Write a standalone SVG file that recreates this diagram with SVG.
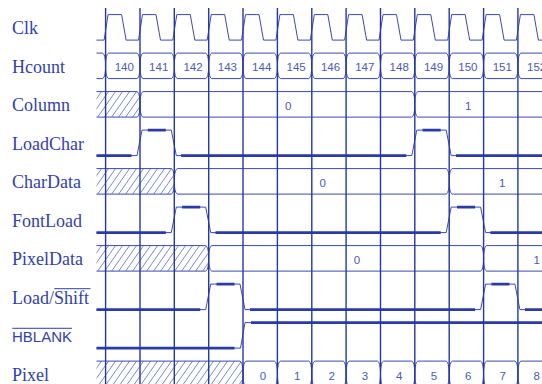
<svg xmlns="http://www.w3.org/2000/svg" xmlns:xlink="http://www.w3.org/1999/xlink" width="542" height="384" viewBox="0 0 542 384">
<style>
.lbl{font-family:"Liberation Serif","Times New Roman",serif;font-size:18px;fill:#3042ac}
.lbls{font-family:"Liberation Sans",Arial,sans-serif;font-size:15px;fill:#3042ac}
.num{font-family:"Liberation Sans",Arial,sans-serif;font-size:11.5px;fill:#4a5ab8;text-anchor:middle}
.w{fill:none;stroke:#3a4ab4;stroke-width:1;stroke-linejoin:round}
.hx{fill:url(#hatch);stroke:#3a4ab4;stroke-width:1}
.tk{fill:none;stroke:#2a3aa8;stroke-width:2.6}
.grid{stroke:#2536a8;stroke-width:1.4}
.ov{stroke:#3042ac;stroke-width:1}
</style>
<defs>
<pattern id="hatch" patternUnits="userSpaceOnUse" width="7" height="8" patternTransform="skewX(-35)">
<line x1="3.5" y1="-1" x2="3.5" y2="9" stroke="#6a78c8" stroke-width="0.8"/>
</pattern>
<path id="cell" class="w" d="M3,0 L31.36,0 C33.86,1 34.36,8 34.36,12.75 C34.36,17.5 33.86,24.5 31.36,25.5 L3,25.5 C0.5,24.5 0,17.5 0,12.75 C0,8 0.5,1 3,0Z"/>
</defs>

<g id="labels">
<text class="lbl" x="12" y="34">Clk</text>
<text class="lbl" x="12" y="72.5">Hcount</text>
<text class="lbl" x="12" y="111">Column</text>
<text class="lbl" x="12" y="149.5">LoadChar</text>
<text class="lbl" x="12" y="188">CharData</text>
<text class="lbl" x="12" y="226.5">FontLoad</text>
<text class="lbl" x="12" y="265">PixelData</text>
<text class="lbl" x="12" y="303.5">Load/Shift</text>
<line class="ov" x1="54.3" y1="288.7" x2="90.5" y2="288.7"/>
<text class="lbls" x="12" y="342">HBLANK</text>
<line class="ov" x1="12.3" y1="328.3" x2="72" y2="328.3"/>
<text class="lbl" x="12" y="380.5">Pixel</text>
</g>

<g id="clk" transform="translate(0,14.6)">
<path class="w" d="M96.5,25.5 L104.1,25.5 L108.1,0 L121.6,0 L126.1,25.5 L138.5,25.5 L142.5,0 L156,0 L160.5,25.5 L172.8,25.5 L176.8,0 L190.3,0 L194.8,25.5 L207.2,25.5 L211.2,0 L224.7,0 L229.2,25.5 L241.5,25.5 L245.5,0 L259,0 L263.5,25.5 L275.9,25.5 L279.9,0 L293.4,0 L297.9,25.5 L310.3,25.5 L314.3,0 L327.8,0 L332.3,25.5 L344.6,25.5 L348.6,0 L362.1,0 L366.6,25.5 L379,25.5 L383,0 L396.5,0 L401,25.5 L413.3,25.5 L417.3,0 L430.8,0 L435.3,25.5 L447.7,25.5 L451.7,0 L465.2,0 L469.7,25.5 L482.1,25.5 L486.1,0 L499.6,0 L504.1,25.5 L516.4,25.5 L520.4,0 L533.9,0 L538.4,25.5 L542,25.5"/>
</g>

<g id="hcount" transform="translate(0,53.1)">
<path class="w" d="M96.5,0 L102.6,0 C105.1,1 105.6,8 105.6,12.75 C105.6,17.5 105.1,24.5 102.6,25.5 L96.5,25.5"/>
<use xlink:href="#cell" x="105.6"/>
<use xlink:href="#cell" x="140"/>
<use xlink:href="#cell" x="174.3"/>
<use xlink:href="#cell" x="208.7"/>
<use xlink:href="#cell" x="243"/>
<use xlink:href="#cell" x="277.4"/>
<use xlink:href="#cell" x="311.8"/>
<use xlink:href="#cell" x="346.1"/>
<use xlink:href="#cell" x="380.5"/>
<use xlink:href="#cell" x="414.8"/>
<use xlink:href="#cell" x="449.2"/>
<use xlink:href="#cell" x="483.6"/>
<use xlink:href="#cell" x="517.9"/>
</g>
<g id="hcount-values">
<text class="num" x="124.3" y="71">140</text>
<text class="num" x="158.7" y="71">141</text>
<text class="num" x="193" y="71">142</text>
<text class="num" x="227.4" y="71">143</text>
<text class="num" x="261.7" y="71">144</text>
<text class="num" x="296.1" y="71">145</text>
<text class="num" x="330.5" y="71">146</text>
<text class="num" x="364.8" y="71">147</text>
<text class="num" x="399.2" y="71">148</text>
<text class="num" x="433.5" y="71">149</text>
<text class="num" x="467.9" y="71">150</text>
<text class="num" x="502.3" y="71">151</text>
<text class="num" x="536.6" y="71">152</text>
</g>

<g id="column" transform="translate(0,91.6)">
<path class="hx" d="M96.5,25.5 L137,25.5 C139.5,24.5 140,17.5 140,12.75 C140,8 139.5,1 137,0 L96.5,0"/>
<path class="w" d="M143,0 L411.8,0 C414.3,1 414.8,8 414.8,12.75 C414.8,17.5 414.3,24.5 411.8,25.5 L143,25.5 C140.5,24.5 140,17.5 140,12.75 C140,8 140.5,1 143,0Z"/>
<path class="w" d="M560,0 L417.8,0 C415.3,1 414.8,8 414.8,12.75 C414.8,17.5 415.3,24.5 417.8,25.5 L560,25.5"/>
</g>
<text class="num" x="288.3" y="109.5">0</text>
<text class="num" x="468.3" y="109.5">1</text>

<g id="loadchar" transform="translate(0,130.1)">
<path class="w" d="M96.5,25.5 L137,25.5 L142,0 L171.3,0 L176.3,25.5 L411.8,25.5 L416.8,0 L446.2,0 L451.2,25.5 L542,25.5"/>
<path class="tk" d="M96.5,25.5 H131.5 M147.8,0 H165.8 M181.1,25.5 H406.3 M422.6,0 H440.7 M456,25.5 H542"/>
</g>

<g id="chardata" transform="translate(0,168.6)">
<path class="hx" d="M96.5,25.5 L171.3,25.5 C173.8,24.5 174.3,17.5 174.3,12.75 C174.3,8 173.8,1 171.3,0 L96.5,0"/>
<path class="w" d="M177.3,0 L446.2,0 C448.7,1 449.2,8 449.2,12.75 C449.2,17.5 448.7,24.5 446.2,25.5 L177.3,25.5 C174.8,24.5 174.3,17.5 174.3,12.75 C174.3,8 174.8,1 177.3,0Z"/>
<path class="w" d="M560,0 L452.2,0 C449.7,1 449.2,8 449.2,12.75 C449.2,17.5 449.7,24.5 452.2,25.5 L560,25.5"/>
</g>
<text class="num" x="322.7" y="186.5">0</text>
<text class="num" x="502.3" y="186.5">1</text>

<g id="fontload" transform="translate(0,207.1)">
<path class="w" d="M96.5,25.5 L171.3,25.5 L176.3,0 L205.7,0 L210.7,25.5 L446.2,25.5 L451.2,0 L480.6,0 L485.6,25.5 L542,25.5"/>
<path class="tk" d="M96.5,25.5 H165.8 M182.1,0 H200.2 M215.5,25.5 H440.7 M457,0 H475.1 M490.4,25.5 H542"/>
</g>

<g id="pixeldata" transform="translate(0,245.6)">
<path class="hx" d="M96.5,25.5 L205.7,25.5 C208.2,24.5 208.7,17.5 208.7,12.75 C208.7,8 208.2,1 205.7,0 L96.5,0"/>
<path class="w" d="M211.7,0 L480.6,0 C483.1,1 483.6,8 483.6,12.75 C483.6,17.5 483.1,24.5 480.6,25.5 L211.7,25.5 C209.2,24.5 208.7,17.5 208.7,12.75 C208.7,8 209.2,1 211.7,0Z"/>
<path class="w" d="M560,0 L486.6,0 C484.1,1 483.6,8 483.6,12.75 C483.6,17.5 484.1,24.5 486.6,25.5 L560,25.5"/>
</g>
<text class="num" x="357" y="263.5">0</text>
<text class="num" x="536.7" y="263.5">1</text>

<g id="loadshift" transform="translate(0,284.1)">
<path class="w" d="M96.5,25.5 L205.7,25.5 L210.7,0 L240,0 L245,25.5 L480.6,25.5 L485.6,0 L514.9,0 L519.9,25.5 L542,25.5"/>
<path class="tk" d="M96.5,25.5 H200.2 M216.5,0 H234.5 M250,25.5 H475.1 M491.4,0 H509.4 M525,25.5 H542"/>
</g>

<g id="hblank" transform="translate(0,322.6)">
<path class="w" d="M96.5,25.5 L240.5,25.5 L245,0 L542,0"/>
<path class="tk" d="M96.5,25.5 H234.5 M251,0 H542"/>
</g>

<g id="pixel" transform="translate(0,361.1)">
<path class="hx" d="M96.5,25.5 L240,25.5 C242.5,24.5 243,17.5 243,12.75 C243,8 242.5,1 240,0 L96.5,0"/>
<use xlink:href="#cell" x="243"/>
<use xlink:href="#cell" x="277.4"/>
<use xlink:href="#cell" x="311.8"/>
<use xlink:href="#cell" x="346.1"/>
<use xlink:href="#cell" x="380.5"/>
<use xlink:href="#cell" x="414.8"/>
<use xlink:href="#cell" x="449.2"/>
<use xlink:href="#cell" x="483.6"/>
<use xlink:href="#cell" x="517.9"/>
</g>
<g id="pixel-values">
<text class="num" x="263" y="379.5">0</text>
<text class="num" x="297.3" y="379.5">1</text>
<text class="num" x="331.6" y="379.5">2</text>
<text class="num" x="365" y="379.5">3</text>
<text class="num" x="399.3" y="379.5">4</text>
<text class="num" x="434" y="379.5">5</text>
<text class="num" x="468.3" y="379.5">6</text>
<text class="num" x="502.7" y="379.5">7</text>
<text class="num" x="536.7" y="379.5">8</text>
</g>

<g id="gridlines">
<line class="grid" x1="105.6" y1="8" x2="105.6" y2="384"/>
<line class="grid" x1="140" y1="8" x2="140" y2="384"/>
<line class="grid" x1="174.3" y1="8" x2="174.3" y2="384"/>
<line class="grid" x1="208.7" y1="8" x2="208.7" y2="384"/>
<line class="grid" x1="243" y1="8" x2="243" y2="384"/>
<line class="grid" x1="277.4" y1="8" x2="277.4" y2="384"/>
<line class="grid" x1="311.8" y1="8" x2="311.8" y2="384"/>
<line class="grid" x1="346.1" y1="8" x2="346.1" y2="384"/>
<line class="grid" x1="380.5" y1="8" x2="380.5" y2="384"/>
<line class="grid" x1="414.8" y1="8" x2="414.8" y2="384"/>
<line class="grid" x1="449.2" y1="8" x2="449.2" y2="384"/>
<line class="grid" x1="483.6" y1="8" x2="483.6" y2="384"/>
<line class="grid" x1="517.9" y1="8" x2="517.9" y2="384"/>
</g>
</svg>
